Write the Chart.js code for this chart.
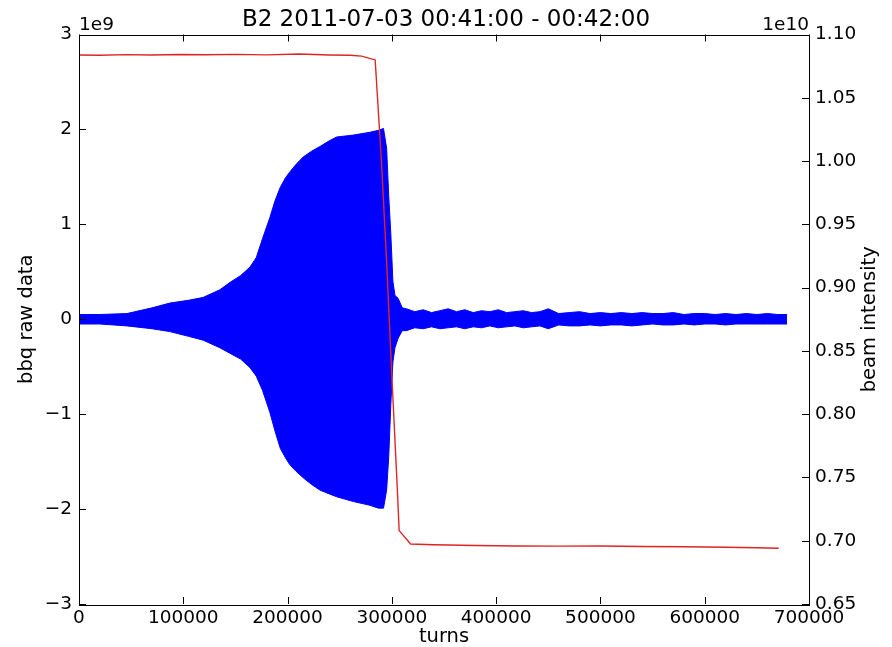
<!DOCTYPE html>
<html>
<head>
<meta charset="utf-8">
<script src="https://cdn.jsdelivr.net/npm/chart.js@4.4.1/dist/chart.umd.min.js"></script>
<style>
  html, body { margin: 0; padding: 0; background: #fff; }
  #wrap { width: 892px; height: 647px; position: relative; }
</style>
</head>
<body>
<div id="wrap"><canvas id="bbq-chart"></canvas></div>
<script>
// bbq raw data envelope (units of 1e9)
const bbqTurns = [0, 20000, 46000, 70000, 87000, 105000, 119000, 135000, 145000, 155000,
  164000, 170000, 176000, 183000, 188000, 193000, 198000, 202000, 208000, 215000,
  223000, 231000, 240000, 247000, 263000, 279000, 287000, 292000, 295000, 297000,
  299000, 301000, 303000, 306000, 310000,
  314000, 322000, 330000, 338000, 346000, 354000, 362000, 370000, 378000, 386000,
  394000, 402000, 410000, 418000, 426000, 434000, 442000, 450000, 460000, 470000,
  480000, 490000, 500000, 510000, 520000, 530000, 540000, 550000, 560000, 570000,
  580000, 590000, 600000, 610000, 620000, 630000, 640000, 650000, 660000, 670000, 679000];
const bbqUpper = [0.05, 0.05, 0.06, 0.12, 0.17, 0.20, 0.23, 0.31, 0.39, 0.46,
  0.55, 0.65, 0.85, 1.07, 1.25, 1.39, 1.49, 1.55, 1.63, 1.71,
  1.77, 1.82, 1.88, 1.92, 1.94, 1.97, 1.99, 2.01, 1.80, 1.30,
  0.90, 0.40, 0.25, 0.22, 0.12,
  0.11, 0.08, 0.10, 0.07, 0.09, 0.11, 0.08, 0.10, 0.07, 0.09,
  0.08, 0.10, 0.07, 0.08, 0.09, 0.07, 0.08, 0.11, 0.06, 0.07,
  0.08, 0.06, 0.07, 0.06, 0.07, 0.06, 0.07, 0.06, 0.06, 0.07,
  0.05, 0.06, 0.06, 0.05, 0.06, 0.05, 0.06, 0.05, 0.06, 0.05, 0.05];
const bbqLower = [-0.05, -0.05, -0.07, -0.10, -0.13, -0.18, -0.22, -0.30, -0.36, -0.42,
  -0.51, -0.60, -0.75, -0.98, -1.18, -1.36, -1.46, -1.53, -1.60, -1.67,
  -1.74, -1.80, -1.84, -1.87, -1.92, -1.96, -1.99, -1.99, -1.80, -1.45,
  -0.90, -0.45, -0.30, -0.20, -0.12,
  -0.12, -0.09, -0.10, -0.08, -0.10, -0.09, -0.08, -0.10, -0.08, -0.09,
  -0.07, -0.09, -0.08, -0.07, -0.09, -0.08, -0.07, -0.10, -0.06, -0.07,
  -0.07, -0.06, -0.07, -0.06, -0.06, -0.07, -0.06, -0.05, -0.06, -0.06,
  -0.05, -0.06, -0.05, -0.05, -0.06, -0.05, -0.05, -0.05, -0.05, -0.05, -0.05];

// beam intensity (units of 1e10)
const intTurns = [0, 20000, 45000, 70000, 95000, 122000, 150000, 180000, 211000, 240000,
  260000, 271000, 284000, 290000, 295000, 300000, 305000, 307000, 318000, 340000,
  380000, 420000, 460000, 500000, 540000, 580000, 620000, 650000, 671000];
const intValues = [1.0838, 1.0836, 1.0841, 1.0838, 1.0842, 1.0840, 1.0843, 1.0839, 1.0846, 1.0838,
  1.0836, 1.0829, 1.0799, 1.000, 0.920, 0.830, 0.745, 0.708, 0.6974, 0.6968,
  0.6962, 0.6958, 0.6957, 0.6958, 0.6954, 0.6952, 0.6948, 0.6945, 0.6941];

const xTicks = [0, 100000, 200000, 300000, 400000, 500000, 600000, 700000];
const leftTicks = [-3, -2, -1, 0, 1, 2, 3];
const rightTicks = [0.65, 0.70, 0.75, 0.80, 0.85, 0.90, 0.95, 1.00, 1.05, 1.10];

const FONT = "'DejaVu Sans', sans-serif";

const toPoints = (xs, ys) => xs.map((x, i) => ({ x: x, y: ys[i] }));

// matplotlib style box with inward ticks, offset texts and right-hand label
const framePlugin = {
  id: 'frame',
  afterDatasetsDraw(chart) {
    const { ctx, chartArea: a, scales } = chart;
    const len = 7;
    ctx.save();
    ctx.strokeStyle = '#000';
    ctx.lineWidth = 1;
    ctx.beginPath();
    xTicks.forEach(v => {
      const px = Math.round(scales.x.getPixelForValue(v)) + 0.5;
      ctx.moveTo(px, a.bottom); ctx.lineTo(px, a.bottom - len);
      ctx.moveTo(px, a.top); ctx.lineTo(px, a.top + len);
    });
    leftTicks.forEach(v => {
      const py = Math.round(scales.y.getPixelForValue(v)) + 0.5;
      ctx.moveTo(a.left, py); ctx.lineTo(a.left + len, py);
    });
    rightTicks.forEach(v => {
      const py = Math.round(scales.y2.getPixelForValue(v)) + 0.5;
      ctx.moveTo(a.right, py); ctx.lineTo(a.right - len, py);
    });
    ctx.stroke();
    ctx.strokeRect(Math.round(a.left) + 0.5, Math.round(a.top) + 0.5,
      Math.round(a.right - a.left), Math.round(a.bottom - a.top));

    ctx.fillStyle = '#000';
    ctx.font = '18.5px ' + FONT;
    ctx.textBaseline = 'alphabetic';
    ctx.textAlign = 'left';
    ctx.fillText('1e9', a.left, a.top - 5);
    ctx.textAlign = 'right';
    ctx.fillText('1e10', a.right, a.top - 5);

    ctx.translate(870, (a.top + a.bottom) / 2);
    ctx.rotate(-Math.PI / 2);
    ctx.textAlign = 'center';
    ctx.textBaseline = 'middle';
    ctx.font = '19.5px ' + FONT;
    ctx.fillText('beam intensity', 0, 0);
    ctx.restore();
  }
};

const noPad = s => { s.paddingTop = 0; s.paddingBottom = 0; s.paddingLeft = 0; s.paddingRight = 0; };

new Chart(document.getElementById('bbq-chart'), {
  type: 'line',
  data: {
    datasets: [
      {
        label: 'beam intensity',
        data: toPoints(intTurns, intValues),
        yAxisID: 'y2',
        borderColor: '#e02424',
        borderWidth: 1.4,
        pointRadius: 0,
        fill: false,
        tension: 0,
        order: 0,
      },
      {
        label: 'bbq upper',
        data: toPoints(bbqTurns, bbqUpper),
        yAxisID: 'y',
        borderColor: '#0000ff',
        backgroundColor: '#0000ff',
        borderWidth: 1,
        pointRadius: 0,
        fill: '+1',
        tension: 0,
        order: 1,
      },
      {
        label: 'bbq lower',
        data: toPoints(bbqTurns, bbqLower),
        yAxisID: 'y',
        borderColor: '#0000ff',
        borderWidth: 1,
        pointRadius: 0,
        fill: false,
        tension: 0,
        order: 2,
      },
    ],
  },
  options: {
    responsive: true,
    maintainAspectRatio: false,
    animation: false,
    layout: { padding: 0 },
    plugins: {
      legend: { display: false },
      tooltip: { enabled: false },
      title: {
        display: true,
        text: 'B2 2011-07-03 00:41:00 - 00:42:00',
        color: '#000',
        font: { family: FONT, size: 23, weight: 'normal', lineHeight: 1.2 },
        padding: { top: 6, bottom: 0.9 },
      },
    },
    scales: {
      x: {
        type: 'linear',
        position: 'bottom',
        min: 0,
        max: 700000,
        grid: { display: false, drawTicks: false },
        border: { display: false },
        afterBuildTicks: s => { s.ticks = xTicks.map(v => ({ value: v })); },
        afterFit: s => { s.height = 43; noPad(s); },
        ticks: {
          color: '#000',
          font: { family: FONT, size: 18.5 },
          padding: 3,
          maxRotation: 0,
          autoSkip: false,
          callback: v => String(v),
        },
        title: {
          display: true,
          text: 'turns',
          color: '#000',
          font: { family: FONT, size: 19.5, lineHeight: 1 },
          padding: 0,
        },
      },
      y: {
        type: 'linear',
        position: 'left',
        min: -3,
        max: 3,
        grid: { display: false, drawTicks: false },
        border: { display: false },
        afterBuildTicks: s => { s.ticks = leftTicks.map(v => ({ value: v })); },
        afterFit: s => { s.width = 79; noPad(s); },
        ticks: {
          color: '#000',
          font: { family: FONT, size: 18.5 },
          padding: 7,
          callback: v => (v < 0 ? '\u2212' + Math.abs(v) : String(v)),
        },
        title: {
          display: true,
          text: 'bbq raw data',
          color: '#000',
          font: { family: FONT, size: 19.5, lineHeight: 1.2 },
          padding: { top: 15, bottom: 0 },
        },
      },
      y2: {
        type: 'linear',
        position: 'right',
        min: 0.65,
        max: 1.10,
        grid: { display: false, drawTicks: false },
        border: { display: false },
        afterBuildTicks: s => { s.ticks = rightTicks.map(v => ({ value: v })); },
        afterFit: s => { s.width = 83; noPad(s); },
        ticks: {
          color: '#000',
          font: { family: FONT, size: 18.5 },
          padding: 6,
          callback: v => v.toFixed(2),
        },
      },
    },
  },
  plugins: [framePlugin],
});
</script>
</body>
</html>
